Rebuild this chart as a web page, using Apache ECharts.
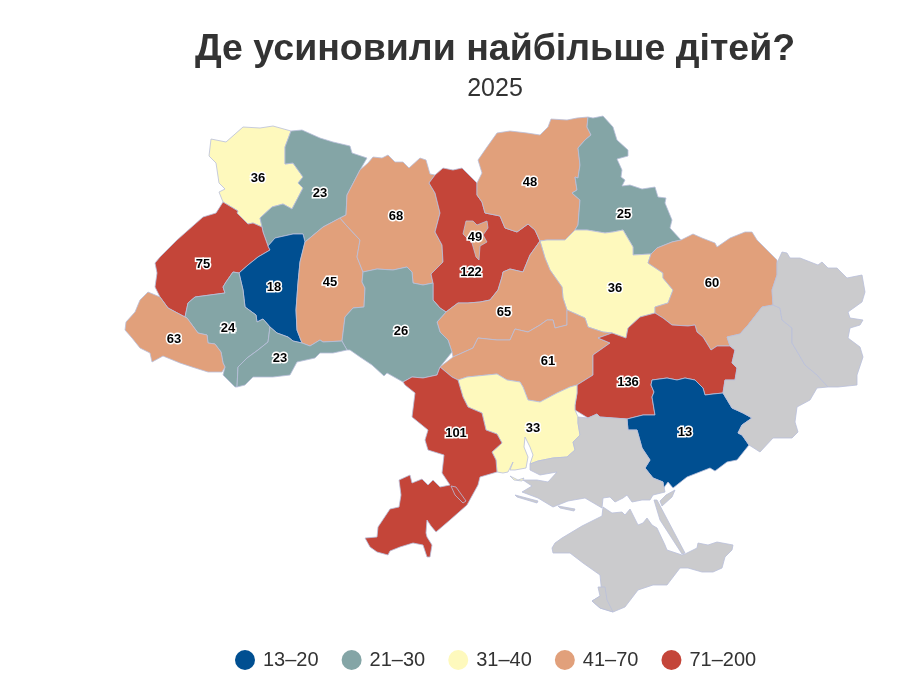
<!DOCTYPE html>
<html>
<head>
<meta charset="utf-8">
<title>Де усиновили найбільше дітей?</title>
<style>
html, body { margin: 0; padding: 0; background: #fff; }
#main { width: 921px; height: 687px; }
</style>
<script src="https://cdn.jsdelivr.net/npm/echarts@6/dist/echarts.min.js"></script>
</head>
<body>
<div id="main"></div>
<script>
// values
var regionNames = ['Волинська', 'Рівненська', 'Львівська', 'Тернопільська', 'Хмельницька', 'Житомирська', 'Київська', 'Київ', 'Чернігівська', 'Сумська', 'Полтавська', 'Харківська', 'Черкаська', 'Вінницька', 'Івано-Франківська', 'Чернівецька', 'Закарпатська', 'Кіровоградська', 'Дніпропетровська', 'Запорізька', 'Миколаївська', 'Одеська'];
var regionValues = [36, 23, 75, 18, 45, 68, 122, 49, 48, 25, 36, 60, 65, 26, 24, 23, 63, 61, 136, 13, 33, 101];

var legendLabels = ['13–20', '21–30', '31–40', '41–70', '71–200'];
var legendMin = [13, 21, 31, 41, 71];
var legendMax = [20, 30, 40, 70, 200];
var legendColors = ['#004f91', '#84a5a6', '#fef9bd', '#e1a07b', '#c44539'];

// map outlines (x, y downwards)
var regionOutlines = {
	'Волинська': [[[211,139],[226,142],[243,127],[260,128],[273,126],[291,131],[285,147],[285,164],[293,163],[303,177],[298,183],[303,188],[292,209],[283,204],[272,207],[260,218],[262,227],[253,223],[248,224],[237,213],[238,211],[223,202],[219,192],[225,189],[219,183],[216,163],[209,156]]],
	'Рівненська': [[[291,131],[302,130],[320,138],[333,142],[350,146],[352,153],[367,158],[360,170],[347,195],[346,215],[340,218],[323,227],[305,242],[303,234],[293,234],[275,238],[268,246],[263,232],[262,227],[260,218],[272,207],[283,204],[292,209],[303,188],[298,183],[303,177],[293,163],[285,164],[285,147]]],
	'Львівська': [[[223,202],[238,211],[237,213],[248,224],[253,223],[262,227],[263,232],[268,246],[270,250],[258,257],[248,265],[239,273],[233,272],[226,282],[223,287],[225,293],[210,295],[195,297],[188,303],[185,317],[168,308],[160,297],[155,287],[157,273],[155,263],[160,257],[177,240],[203,217],[216,213]]],
	'Тернопільська': [[[305,242],[303,234],[293,234],[275,238],[268,246],[270,250],[258,257],[248,265],[239,273],[243,290],[245,307],[256,315],[257,322],[263,319],[270,327],[277,333],[288,337],[293,341],[302,343],[297,330],[296,310],[298,283],[300,262]]],
	'Хмельницька': [[[305,242],[323,227],[340,218],[346,225],[360,240],[357,257],[363,272],[362,282],[365,288],[364,307],[353,308],[345,317],[343,333],[342,341],[323,342],[320,340],[310,346],[302,343],[297,330],[296,310],[298,283],[300,262]]],
	'Житомирська': [[[360,170],[368,163],[373,157],[382,158],[388,155],[395,162],[403,162],[409,168],[420,158],[426,160],[430,174],[435,175],[429,183],[435,193],[440,213],[435,232],[442,245],[443,262],[431,274],[433,283],[423,285],[413,283],[412,272],[407,267],[393,270],[377,269],[363,272],[357,257],[360,240],[346,225],[340,218],[346,215],[347,195]]],
	'Київська': [[[429,183],[435,175],[443,168],[453,170],[462,168],[472,178],[477,183],[477,195],[482,202],[485,213],[500,216],[505,228],[517,232],[528,224],[535,230],[540,241],[530,255],[523,272],[510,269],[503,272],[502,277],[498,290],[490,300],[480,302],[468,303],[458,303],[446,312],[440,308],[433,300],[433,283],[431,274],[443,262],[442,245],[435,232],[440,213],[435,193]]],
	'Київ': [[[466,221],[473,221],[477,225],[487,221],[488,228],[483,235],[487,242],[480,246],[479,260],[476,257],[472,243],[463,234]]],
	'Чернігівська': [[[477,183],[482,173],[478,160],[487,147],[497,133],[510,131],[527,133],[540,135],[548,127],[551,119],[567,120],[577,118],[588,117],[587,127],[591,135],[585,140],[578,148],[580,165],[578,178],[575,177],[577,190],[572,193],[580,200],[578,225],[575,230],[565,240],[547,240],[540,241],[535,230],[528,224],[517,232],[505,228],[500,216],[485,213],[482,202],[477,195]]],
	'Сумська': [[[588,117],[593,118],[603,116],[613,127],[617,140],[628,150],[628,156],[617,159],[622,170],[621,177],[625,180],[622,186],[630,185],[642,189],[655,187],[658,197],[666,198],[665,203],[672,220],[670,228],[681,240],[672,242],[657,248],[651,254],[633,255],[633,247],[623,230],[613,232],[605,233],[587,230],[575,230],[578,225],[580,200],[572,193],[577,190],[575,177],[578,178],[580,165],[578,148],[585,140],[591,135],[587,127]]],
	'Полтавська': [[[540,241],[547,240],[565,240],[575,230],[587,230],[605,233],[613,232],[623,230],[633,247],[633,255],[651,254],[648,263],[663,273],[663,278],[673,290],[668,303],[655,307],[655,313],[640,317],[628,328],[626,338],[612,333],[603,332],[588,327],[585,318],[567,310],[563,298],[562,287],[550,270],[545,258]]],
	'Харківська': [[[648,263],[651,254],[657,248],[672,242],[681,240],[693,234],[702,238],[715,243],[717,247],[730,238],[745,232],[752,232],[757,240],[777,260],[777,275],[772,290],[773,305],[762,307],[748,325],[740,334],[727,337],[730,346],[717,346],[711,350],[703,337],[697,332],[695,325],[688,326],[672,325],[663,318],[655,313],[655,307],[668,303],[673,290],[663,278],[663,273]]],
	'Черкаська': [[[446,312],[458,303],[468,303],[480,302],[490,300],[498,290],[502,277],[503,272],[510,269],[523,272],[530,255],[540,241],[545,258],[550,270],[562,287],[563,298],[567,310],[567,325],[555,328],[553,320],[547,320],[540,325],[528,332],[515,329],[510,340],[497,340],[478,338],[473,348],[453,357],[452,352],[448,340],[440,332],[437,322]]],
	'Вінницька': [[[363,272],[377,269],[393,270],[407,267],[412,272],[413,283],[423,285],[433,283],[433,300],[440,308],[446,312],[437,322],[440,332],[448,340],[452,352],[440,367],[437,375],[423,378],[412,377],[403,382],[387,373],[384,376],[372,365],[360,357],[350,350],[347,350],[343,343],[342,341],[343,333],[345,317],[353,308],[364,307],[365,288],[362,282]]],
	'Івано-Франківська': [[[233,272],[239,273],[243,290],[245,307],[256,315],[257,322],[263,319],[270,327],[268,342],[258,350],[247,358],[238,367],[237,387],[235,387],[230,382],[223,375],[225,367],[223,363],[221,352],[215,344],[208,343],[207,335],[198,333],[187,318],[185,317],[188,303],[195,297],[210,295],[225,293],[223,287],[226,282]]],
	'Чернівецька': [[[270,327],[277,333],[288,337],[293,341],[302,343],[310,346],[320,340],[323,342],[342,341],[343,343],[347,350],[333,353],[320,353],[315,358],[297,362],[290,375],[273,377],[253,377],[245,385],[237,387],[238,367],[247,358],[258,350],[268,342]]],
	'Закарпатська': [[[148,292],[160,297],[168,308],[185,317],[187,318],[198,333],[207,335],[208,343],[215,344],[221,352],[223,363],[225,367],[222,372],[208,372],[192,367],[180,363],[163,356],[152,362],[150,353],[140,348],[132,338],[125,330],[126,322],[135,312],[140,300]]],
	'Кіровоградська': [[[440,367],[453,357],[473,348],[478,338],[497,340],[510,340],[515,329],[528,332],[540,325],[547,320],[553,320],[555,328],[567,325],[567,310],[585,318],[588,327],[603,332],[612,333],[598,338],[610,343],[593,355],[593,375],[577,385],[570,387],[557,393],[540,402],[528,400],[523,387],[520,382],[507,380],[497,374],[467,377],[458,380],[452,377]]],
	'Дніпропетровська': [[[598,338],[612,333],[626,338],[628,328],[640,317],[655,313],[663,318],[672,325],[688,326],[695,325],[697,332],[703,337],[711,350],[717,346],[730,346],[735,350],[732,363],[737,368],[735,380],[725,380],[723,393],[713,394],[705,395],[703,388],[695,380],[685,378],[677,380],[667,378],[652,380],[651,385],[654,392],[652,397],[655,415],[643,415],[627,419],[600,417],[597,414],[588,418],[575,410],[575,405],[577,393],[577,385],[593,375],[593,355],[610,343]]],
	'Запорізька': [[[652,380],[667,378],[677,380],[685,378],[695,380],[703,388],[705,395],[713,394],[723,393],[732,408],[743,413],[752,418],[742,425],[738,433],[742,435],[749,445],[745,450],[737,460],[727,462],[715,471],[710,468],[687,477],[673,488],[668,482],[663,489],[663,482],[653,478],[645,468],[650,460],[642,448],[637,430],[628,430],[627,419],[643,415],[655,415],[652,397],[654,392],[651,385]]],
	'Миколаївська': [[[458,380],[467,377],[497,374],[507,380],[520,382],[523,387],[528,400],[540,402],[557,393],[570,387],[577,385],[577,393],[575,405],[575,410],[578,417],[578,423],[580,435],[573,442],[575,450],[567,457],[553,458],[538,461],[530,464],[533,455],[530,447],[525,437],[524,447],[528,457],[526,468],[515,470],[510,470],[513,462],[508,472],[503,473],[497,472],[496,460],[492,452],[502,443],[497,434],[486,430],[482,413],[468,407],[463,397]], [[510,476],[518,480],[524,478],[522,481],[514,480]]],
	'Одеська': [[[403,382],[412,377],[423,378],[437,375],[440,367],[452,377],[458,380],[463,397],[468,407],[482,413],[486,430],[497,434],[502,443],[492,452],[496,460],[497,472],[480,477],[478,485],[467,505],[450,520],[436,532],[431,526],[427,520],[426,533],[427,537],[432,545],[430,557],[427,557],[423,545],[413,543],[400,547],[390,551],[388,555],[377,552],[370,547],[365,538],[377,537],[378,527],[390,509],[399,507],[401,495],[399,480],[410,475],[412,483],[422,479],[428,485],[433,480],[440,487],[450,485],[442,473],[444,455],[428,450],[425,440],[428,430],[412,417],[415,393],[405,385]]],
	'Херсонська': [[[578,417],[588,418],[597,414],[600,417],[627,419],[628,430],[637,430],[642,448],[650,460],[645,468],[653,478],[663,482],[665,492],[653,495],[650,500],[642,500],[632,502],[627,495],[623,498],[615,502],[610,497],[603,498],[602,508],[585,498],[568,501],[553,507],[538,498],[522,492],[532,486],[523,480],[537,480],[548,482],[557,472],[540,475],[530,470],[530,464],[538,461],[553,458],[567,457],[575,450],[573,442],[580,435],[578,423]], [[515,495],[538,501],[537,503],[517,497]], [[558,506],[575,509],[574,511],[560,508]], [[675,490],[672,497],[662,506],[660,501],[666,495]]],
	'Крим': [[[602,516],[603,507],[612,513],[622,512],[625,515],[630,509],[638,525],[643,523],[647,518],[652,525],[657,528],[665,545],[667,550],[682,555],[685,554],[697,548],[698,543],[708,545],[717,542],[733,545],[732,550],[725,557],[722,568],[713,572],[702,572],[688,568],[680,568],[667,585],[653,585],[638,590],[625,607],[613,612],[600,608],[592,601],[602,595],[600,575],[583,563],[570,553],[553,553],[552,548],[555,543],[562,538],[572,532],[582,526]], [[654,500],[657,500],[685,553],[682,554],[660,520]]],
	'Севастополь': [[[592,601],[600,596],[598,587],[605,587],[607,600],[613,612],[600,608]]],
	'Донецька': [[[773,305],[780,308],[782,320],[792,328],[792,343],[798,353],[805,365],[817,375],[828,387],[817,388],[810,400],[797,407],[795,422],[798,432],[792,438],[773,438],[760,452],[749,445],[742,435],[738,433],[742,425],[752,418],[743,413],[732,408],[723,393],[725,380],[735,380],[737,368],[732,363],[735,350],[730,346],[727,337],[740,334],[748,325],[762,307]]],
	'Луганська': [[[777,263],[782,252],[787,253],[790,258],[800,258],[818,265],[822,262],[828,268],[837,268],[847,278],[862,275],[865,292],[862,302],[848,312],[850,318],[863,320],[860,325],[850,328],[848,338],[860,347],[863,357],[857,375],[857,385],[838,387],[828,387],[817,375],[805,365],[798,353],[792,343],[792,328],[782,320],[780,308],[773,305],[772,290],[777,275]]]
};

// Dniester estuary cuts through the first ring of Odesa
var regionHoles = {
	'Одеська': [[451,486],[456,487],[466,501],[463,503],[455,495]]
};

// where each number sits on its region
var labelSpots = {
	'Волинська': [258,178], 'Рівненська': [320,193], 'Львівська': [203,264], 'Тернопільська': [274,287], 'Хмельницька': [330,282],
	'Житомирська': [396,216], 'Київська': [471,272], 'Київ': [475,237], 'Чернігівська': [530,182], 'Сумська': [624,214],
	'Полтавська': [615,288], 'Харківська': [712,283], 'Черкаська': [504,312], 'Вінницька': [401,331], 'Івано-Франківська': [228,328],
	'Чернівецька': [280,358], 'Закарпатська': [174,339], 'Кіровоградська': [548,361], 'Дніпропетровська': [628,382], 'Запорізька': [685,432],
	'Миколаївська': [533,428], 'Одеська': [456,433]
};

function flip(p) {
	return [p[0], -p[1]];
}

var features = [];
var minX = 1e9, maxX = -1e9, minY = 1e9, maxY = -1e9;
for (var name in regionOutlines) {
	var rings = regionOutlines[name];
	var polys = [];
	for (var i = 0; i < rings.length; i++) {
		var ring = rings[i].concat([rings[i][0]]);
		for (var j = 0; j < ring.length; j++) {
			minX = Math.min(minX, ring[j][0]);
			maxX = Math.max(maxX, ring[j][0]);
			minY = Math.min(minY, ring[j][1]);
			maxY = Math.max(maxY, ring[j][1]);
		}
		polys.push([ring.map(flip)]);
	}
	if (regionHoles[name]) {
		polys[0].push(regionHoles[name].concat([regionHoles[name][0]]).map(flip));
	}
	var props = { name: name };
	if (labelSpots[name]) {
		props.cp = flip(labelSpots[name]);
	}
	features.push({
		type: 'Feature',
		properties: props,
		geometry: { type: 'MultiPolygon', coordinates: polys }
	});
}
echarts.registerMap('ukraine', { type: 'FeatureCollection', features: features });

var mapData = regionNames.map(function (n, i) {
	return { name: n, value: regionValues[i] };
});
var pieces = legendLabels.map(function (l, i) {
	return { min: legendMin[i], max: legendMax[i], label: l, color: legendColors[i] };
});

var myChart = echarts.init(document.getElementById('main'), null, { renderer: 'canvas' });
var option = {
	backgroundColor: '#fff',
	animation: false,
	textStyle: { fontFamily: '"Liberation Sans", Arial, sans-serif' },
	title: [
		{
			text: 'Де усиновили найбільше дітей?',
			left: 490,
			top: 26,
			textAlign: 'center',
			textStyle: { fontSize: 37.5, fontWeight: 'bold', color: '#333', fontFamily: '"Liberation Sans", Arial, sans-serif' }
		},
		{
			text: '2025',
			left: 490,
			top: 72,
			textAlign: 'center',
			textStyle: { fontSize: 25, fontWeight: 'normal', color: '#333', fontFamily: '"Liberation Sans", Arial, sans-serif' }
		}
	],
	visualMap: {
		type: 'piecewise',
		orient: 'horizontal',
		left: 235,
		top: 650,
		itemSymbol: 'circle',
		itemWidth: 20,
		itemHeight: 20,
		itemGap: 23,
		textGap: 8,
		selectedMode: false,
		padding: 0,
		pieces: pieces,
		textStyle: { fontSize: 20, color: '#333', fontFamily: '"Liberation Sans", Arial, sans-serif' }
	},
	series: [
		{
			type: 'map',
			map: 'ukraine',
			silent: true,
			roam: false,
			aspectScale: 1,
			left: minX,
			top: minY,
			width: maxX - minX,
			height: maxY - minY,
			showLegendSymbol: false,
			data: mapData,
			itemStyle: { areaColor: '#cbcbcd', borderColor: '#b9bfdb', borderWidth: 0.8 },
			label: {
				show: true,
				fontSize: 13,
				fontWeight: 'bold',
				color: '#000',
				textBorderColor: '#fff',
				textBorderWidth: 3,
				fontFamily: '"Liberation Sans", Arial, sans-serif',
				formatter: function (params) {
					return isNaN(params.value) ? '' : String(params.value);
				}
			}
		}
	]
};
myChart.setOption(option);
</script>
</body>
</html>
